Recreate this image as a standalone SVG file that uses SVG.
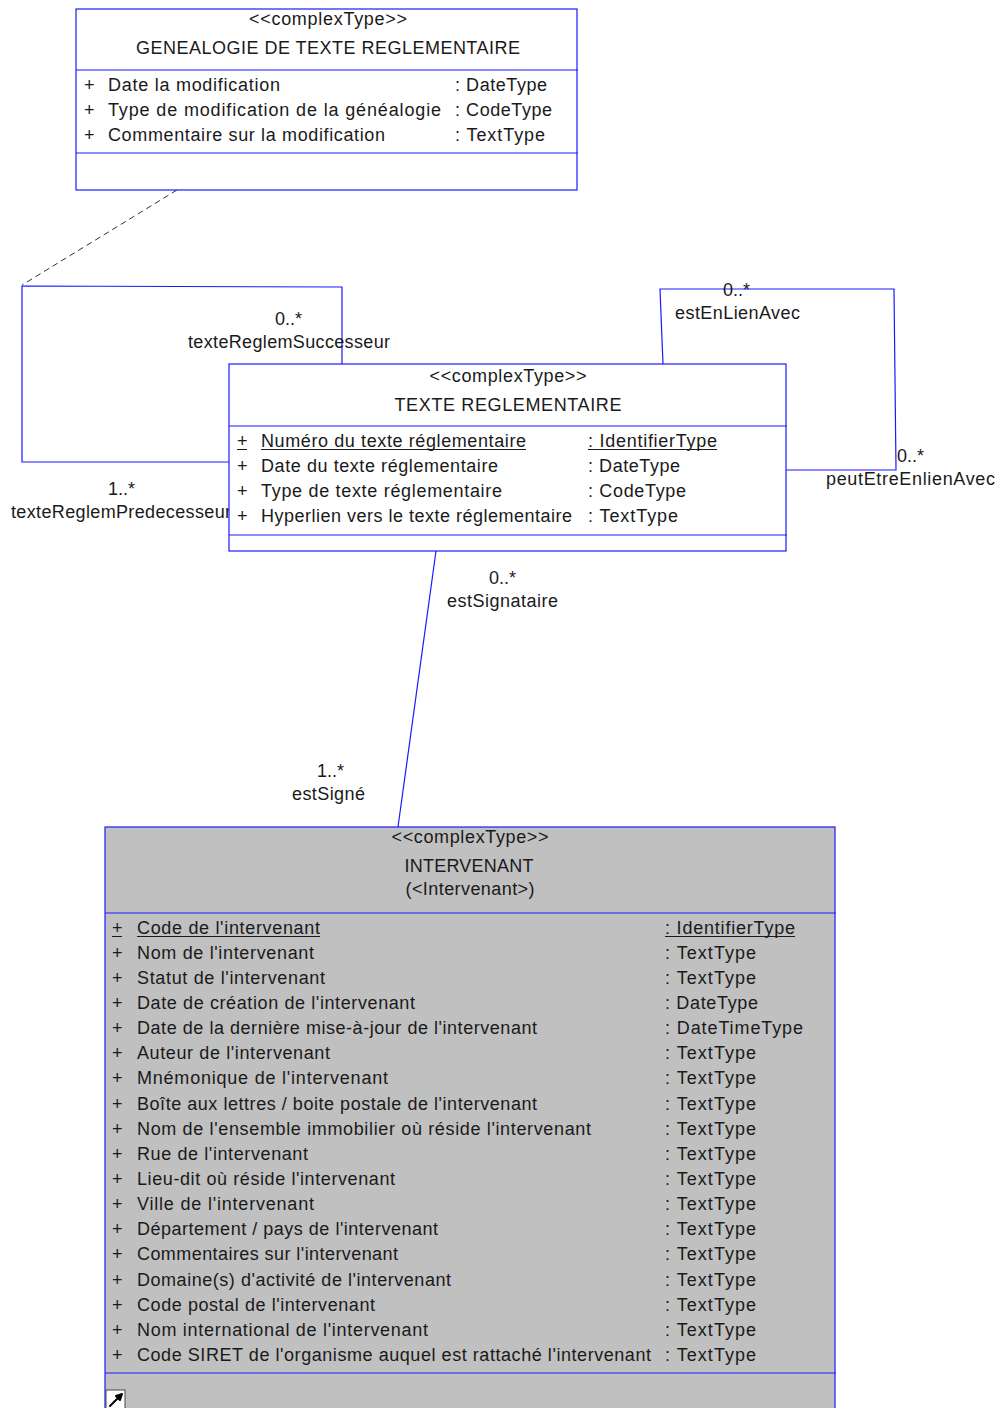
<svg xmlns="http://www.w3.org/2000/svg" width="998" height="1408" viewBox="0 0 998 1408">
<style>
.box{stroke:#1a1aff;stroke-width:1.2;fill:#ffffff}
.gray{fill:#c0c0c0}
.sep{stroke:#1a1aff;stroke-width:1.2;fill:none}
.conn{stroke:#1a1aff;stroke-width:1.2;fill:none}
.dash{stroke:#333333;stroke-width:1;fill:none;stroke-dasharray:6,4}
.ul{stroke:#1a1a1a;stroke-width:1}
.t{font-family:"Liberation Sans",Arial,sans-serif;font-size:18px;fill:#1a1a1a}
.c{text-anchor:middle}
</style>
<rect width="998" height="1408" fill="#ffffff"/>

<g id="connectors">
  <line class="dash" x1="177" y1="190" x2="22" y2="285"/>
  <polyline class="conn" points="342,364 342,287 22,286 22,462 229,462"/>
  <polyline class="conn" points="663,364 660,289 894,289 896,470 786,470"/>
  <line class="conn" x1="436" y1="551" x2="398" y2="827"/>
  <text class="t" x="275" y="325" textLength="27" lengthAdjust="spacing">0..*</text>
  <text class="t" x="188" y="348" textLength="202" lengthAdjust="spacing">texteReglemSuccesseur</text>
  <text class="t" x="108" y="495" textLength="27" lengthAdjust="spacing">1..*</text>
  <text class="t" x="11" y="518" textLength="220" lengthAdjust="spacing">texteReglemPredecesseur</text>
  <text class="t" x="723" y="296" textLength="27" lengthAdjust="spacing">0..*</text>
  <text class="t" x="675" y="319" textLength="125" lengthAdjust="spacing">estEnLienAvec</text>
  <text class="t" x="897" y="462" textLength="27" lengthAdjust="spacing">0..*</text>
  <text class="t" x="826" y="485" textLength="169" lengthAdjust="spacing">peutEtreEnlienAvec</text>
  <text class="t" x="489" y="584" textLength="27" lengthAdjust="spacing">0..*</text>
  <text class="t" x="447" y="607" textLength="111" lengthAdjust="spacing">estSignataire</text>
  <text class="t" x="317" y="777" textLength="27" lengthAdjust="spacing">1..*</text>
  <text class="t" x="292" y="800" textLength="73" lengthAdjust="spacing">estSigné</text>
</g>

<g id="node-genealogie">
  <rect class="box" x="76" y="9" width="501" height="181"/>
  <line class="sep" x1="76" y1="70" x2="578" y2="70"/>
  <line class="sep" x1="76" y1="153" x2="578" y2="153"/>
  <text class="t c" x="328" y="25" textLength="158" lengthAdjust="spacing">&lt;&lt;complexType&gt;&gt;</text>
  <text class="t c" x="328" y="54" textLength="384" lengthAdjust="spacing">GENEALOGIE DE TEXTE REGLEMENTAIRE</text>
  <text class="t" x="84" y="91">+</text>
  <text class="t" x="108" y="91" textLength="172" lengthAdjust="spacing">Date la modification</text>
  <text class="t" x="455" y="91" textLength="92" lengthAdjust="spacing">: DateType</text>
  <text class="t" x="84" y="116">+</text>
  <text class="t" x="108" y="116" textLength="333" lengthAdjust="spacing">Type de modification de la généalogie</text>
  <text class="t" x="455" y="116" textLength="97" lengthAdjust="spacing">: CodeType</text>
  <text class="t" x="84" y="141">+</text>
  <text class="t" x="108" y="141" textLength="277" lengthAdjust="spacing">Commentaire sur la modification</text>
  <text class="t" x="455" y="141" textLength="90" lengthAdjust="spacing">: TextType</text>
</g>

<g id="node-texte">
  <rect class="box" x="229" y="364" width="557" height="187"/>
  <line class="sep" x1="229" y1="426" x2="787" y2="426"/>
  <line class="sep" x1="229" y1="535" x2="787" y2="535"/>
  <text class="t c" x="508" y="382" textLength="157" lengthAdjust="spacing">&lt;&lt;complexType&gt;&gt;</text>
  <text class="t c" x="508" y="411" textLength="227" lengthAdjust="spacing">TEXTE REGLEMENTAIRE</text>
  <text class="t" x="237" y="447">+</text>
  <text class="t" x="261" y="447" textLength="265" lengthAdjust="spacing">Numéro du texte réglementaire</text>
  <text class="t" x="588" y="447" textLength="129" lengthAdjust="spacing">: IdentifierType</text>
  <line class="ul" x1="237" y1="449.5" x2="247" y2="449.5"/>
  <line class="ul" x1="261" y1="449.5" x2="526" y2="449.5"/>
  <line class="ul" x1="588" y1="449.5" x2="717" y2="449.5"/>
  <text class="t" x="237" y="472">+</text>
  <text class="t" x="261" y="472" textLength="237" lengthAdjust="spacing">Date du texte réglementaire</text>
  <text class="t" x="588" y="472" textLength="92" lengthAdjust="spacing">: DateType</text>
  <text class="t" x="237" y="497">+</text>
  <text class="t" x="261" y="497" textLength="241" lengthAdjust="spacing">Type de texte réglementaire</text>
  <text class="t" x="588" y="497" textLength="98" lengthAdjust="spacing">: CodeType</text>
  <text class="t" x="237" y="522">+</text>
  <text class="t" x="261" y="522" textLength="311" lengthAdjust="spacing">Hyperlien vers le texte réglementaire</text>
  <text class="t" x="588" y="522" textLength="90" lengthAdjust="spacing">: TextType</text>
</g>

<g id="node-intervenant">
  <rect class="box gray" x="105" y="827" width="730" height="600"/>
  <line class="sep" x1="105" y1="913" x2="836" y2="913"/>
  <line class="sep" x1="105" y1="1373" x2="836" y2="1373"/>
  <text class="t c" x="470" y="843" textLength="157" lengthAdjust="spacing">&lt;&lt;complexType&gt;&gt;</text>
  <text class="t c" x="469" y="872" textLength="129" lengthAdjust="spacing">INTERVENANT</text>
  <text class="t c" x="470" y="895" textLength="129" lengthAdjust="spacing">(&lt;Intervenant&gt;)</text>

  <text class="t" x="112" y="934">+</text>
  <text class="t" x="137" y="934" textLength="183" lengthAdjust="spacing">Code de l'intervenant</text>
  <text class="t" x="665" y="934" textLength="130" lengthAdjust="spacing">: IdentifierType</text>
  <line class="ul" x1="112" y1="936.5" x2="122" y2="936.5"/>
  <line class="ul" x1="137" y1="936.5" x2="320" y2="936.5"/>
  <line class="ul" x1="665" y1="936.5" x2="795" y2="936.5"/>

  <text class="t" x="112" y="959">+</text>
  <text class="t" x="137" y="959" textLength="177" lengthAdjust="spacing">Nom de l'intervenant</text>
  <text class="t" x="665" y="959" textLength="91" lengthAdjust="spacing">: TextType</text>

  <text class="t" x="112" y="984">+</text>
  <text class="t" x="137" y="984" textLength="188" lengthAdjust="spacing">Statut de l'intervenant</text>
  <text class="t" x="665" y="984" textLength="91" lengthAdjust="spacing">: TextType</text>

  <text class="t" x="112" y="1009">+</text>
  <text class="t" x="137" y="1009" textLength="278" lengthAdjust="spacing">Date de création de l'intervenant</text>
  <text class="t" x="665" y="1009" textLength="93" lengthAdjust="spacing">: DateType</text>

  <text class="t" x="112" y="1034">+</text>
  <text class="t" x="137" y="1034" textLength="400" lengthAdjust="spacing">Date de la dernière mise-à-jour de l'intervenant</text>
  <text class="t" x="665" y="1034" textLength="138" lengthAdjust="spacing">: DateTimeType</text>

  <text class="t" x="112" y="1059">+</text>
  <text class="t" x="137" y="1059" textLength="193" lengthAdjust="spacing">Auteur de l'intervenant</text>
  <text class="t" x="665" y="1059" textLength="91" lengthAdjust="spacing">: TextType</text>

  <text class="t" x="112" y="1084">+</text>
  <text class="t" x="137" y="1084" textLength="251" lengthAdjust="spacing">Mnémonique de l'intervenant</text>
  <text class="t" x="665" y="1084" textLength="91" lengthAdjust="spacing">: TextType</text>

  <text class="t" x="112" y="1110">+</text>
  <text class="t" x="137" y="1110" textLength="400" lengthAdjust="spacing">Boîte aux lettres / boite postale de l'intervenant</text>
  <text class="t" x="665" y="1110" textLength="91" lengthAdjust="spacing">: TextType</text>

  <text class="t" x="112" y="1135">+</text>
  <text class="t" x="137" y="1135" textLength="454" lengthAdjust="spacing">Nom de l'ensemble immobilier où réside l'intervenant</text>
  <text class="t" x="665" y="1135" textLength="91" lengthAdjust="spacing">: TextType</text>

  <text class="t" x="112" y="1160">+</text>
  <text class="t" x="137" y="1160" textLength="171" lengthAdjust="spacing">Rue de l'intervenant</text>
  <text class="t" x="665" y="1160" textLength="91" lengthAdjust="spacing">: TextType</text>

  <text class="t" x="112" y="1185">+</text>
  <text class="t" x="137" y="1185" textLength="258" lengthAdjust="spacing">Lieu-dit où réside l'intervenant</text>
  <text class="t" x="665" y="1185" textLength="91" lengthAdjust="spacing">: TextType</text>

  <text class="t" x="112" y="1210">+</text>
  <text class="t" x="137" y="1210" textLength="177" lengthAdjust="spacing">Ville de l'intervenant</text>
  <text class="t" x="665" y="1210" textLength="91" lengthAdjust="spacing">: TextType</text>

  <text class="t" x="112" y="1235">+</text>
  <text class="t" x="137" y="1235" textLength="301" lengthAdjust="spacing">Département / pays de l'intervenant</text>
  <text class="t" x="665" y="1235" textLength="91" lengthAdjust="spacing">: TextType</text>

  <text class="t" x="112" y="1260">+</text>
  <text class="t" x="137" y="1260" textLength="261" lengthAdjust="spacing">Commentaires sur l'intervenant</text>
  <text class="t" x="665" y="1260" textLength="91" lengthAdjust="spacing">: TextType</text>

  <text class="t" x="112" y="1286">+</text>
  <text class="t" x="137" y="1286" textLength="314" lengthAdjust="spacing">Domaine(s) d'activité de l'intervenant</text>
  <text class="t" x="665" y="1286" textLength="91" lengthAdjust="spacing">: TextType</text>

  <text class="t" x="112" y="1311">+</text>
  <text class="t" x="137" y="1311" textLength="238" lengthAdjust="spacing">Code postal de l'intervenant</text>
  <text class="t" x="665" y="1311" textLength="91" lengthAdjust="spacing">: TextType</text>

  <text class="t" x="112" y="1336">+</text>
  <text class="t" x="137" y="1336" textLength="291" lengthAdjust="spacing">Nom international de l'intervenant</text>
  <text class="t" x="665" y="1336" textLength="91" lengthAdjust="spacing">: TextType</text>

  <text class="t" x="112" y="1361">+</text>
  <text class="t" x="137" y="1361" textLength="514" lengthAdjust="spacing">Code SIRET de l'organisme auquel est rattaché l'intervenant</text>
  <text class="t" x="665" y="1361" textLength="91" lengthAdjust="spacing">: TextType</text>

  <rect x="106" y="1390" width="19" height="19" fill="#ffffff" stroke="#444444" stroke-width="1"/>
  <path d="M110,1406 L118,1398 L116,1396 L122,1394 L120,1400 L118,1398 Z" fill="#000000" stroke="#000000" stroke-width="2" stroke-linejoin="round"/>
</g>
</svg>
